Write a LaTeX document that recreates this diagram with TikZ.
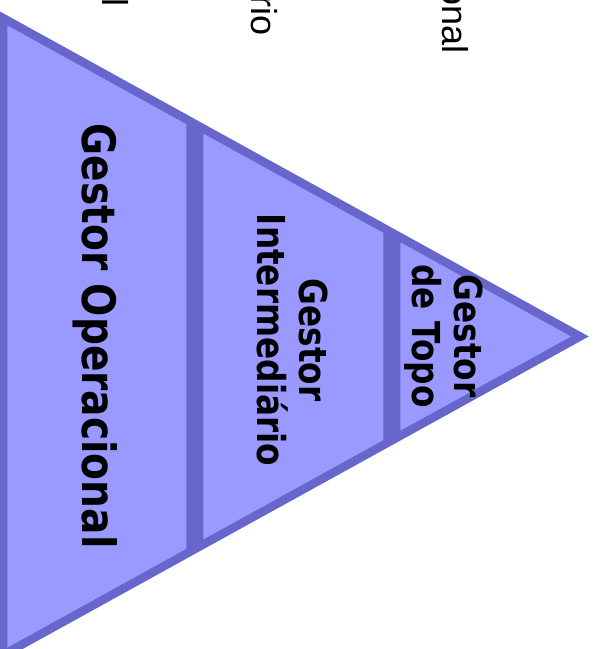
\documentclass[tikz,border=0pt]{standalone}
\usepackage{fontspec}
\newfontfamily\lblfont{DejaVu Sans}[FakeStretch=0.85]
\newfontfamily\fragfont{Liberation Sans}
\definecolor{layerfill}{HTML}{9999FF}
\definecolor{layerline}{HTML}{6666CC}
\tikzset{
  layer/.style={fill=layerfill,draw=layerline,line width=8.5pt},
  lbl/.style={font=\lblfont\bfseries\fontsize{38.5}{42}\selectfont,rotate=-90,align=center,inner sep=0pt},
  biglbl/.style={lbl,font=\lblfont\bfseries\fontsize{46}{50}\selectfont},
  frag/.style={font=\fragfont\fontsize{36}{40}\selectfont,rotate=-90,anchor=base east,inner sep=0pt}
}
\begin{document}
\begin{tikzpicture}[x=1pt,y=-1pt]
\useasboundingbox (0,0) rectangle (597,649);

% the three layers, widest first
\draw[layer] (3,18) -- (190.5,121.5) -- (190.5,551.5) -- (3,655) -- cycle;
\draw[layer] (199,126.2) -- (387.5,230.2) -- (387.5,442.8) -- (199,546.8) -- cycle;
\draw[layer] (396,234.9) -- (580,336.5) -- (396,438.1) -- cycle;

\node[biglbl] (op) at (95,336) {Gestor Operacional};
\node[lbl] (int) at (293,340) {Gestor\\Intermediário};
\node[lbl] (topo) at (444,336) {Gestor\\de Topo};

% labels cut off by the top edge
\node[frag] (fragop) at (102,7) {l};
\node[frag] (fragint) at (251,36) {rio};
\node[frag] (fragtopo) at (442,54) {onal};
\end{tikzpicture}
\end{document}
